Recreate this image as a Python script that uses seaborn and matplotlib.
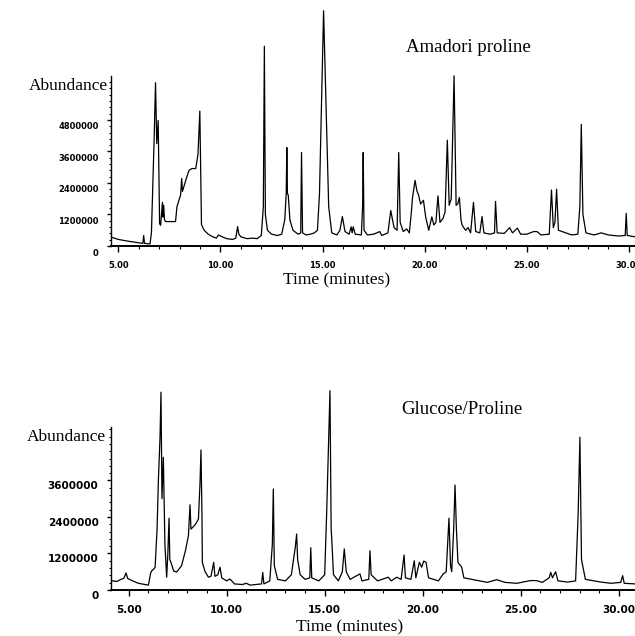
import matplotlib
matplotlib.use("Agg")
import matplotlib.pyplot as plt
import matplotlib.transforms as mtransforms
from matplotlib.ticker import MultipleLocator, FixedLocator
import seaborn as sns
import pandas as pd

# ---------------- data (time in minutes, abundance in millions) ----------------
amadori_time = [4.64, 5.0, 5.5, 6.0, 6.2, 6.24, 6.28, 6.55, 6.62, 6.75, 6.82, 6.88, 6.95, 7.02,
                7.07, 7.12, 7.16, 7.19, 7.22, 7.26, 7.31, 7.8, 7.87, 7.95, 8.05, 8.1, 8.14, 8.3,
                8.46, 8.6, 8.79, 8.9, 8.99, 9.04, 9.07, 9.2, 9.4, 9.6, 9.8, 9.9, 10.0, 10.3, 10.6,
                10.75, 10.84, 10.9, 11.0, 11.3, 11.6, 11.8, 12.0, 12.1, 12.15, 12.2, 12.3, 12.5,
                12.8, 13.0, 13.15, 13.22, 13.25, 13.28, 13.32, 13.4, 13.55, 13.8, 13.93, 13.97,
                14.02, 14.2, 14.4, 14.6, 14.75, 14.85, 14.95, 15.05, 15.15, 15.3, 15.45, 15.7,
                15.85, 15.97, 16.1, 16.3, 16.4, 16.45, 16.5, 16.6, 16.9, 16.96, 16.99, 17.03,
                17.2, 17.5, 17.8, 17.9, 18.2, 18.34, 18.5, 18.65, 18.73, 18.8, 18.95, 19.12,
                19.25, 19.35, 19.4, 19.53, 19.62, 19.7, 19.8, 19.94, 20.05, 20.2, 20.35, 20.45,
                20.55, 20.65, 20.75, 20.9, 21.0, 21.11, 21.2, 21.3, 21.44, 21.54, 21.62, 21.7,
                21.78, 21.83, 22.0, 22.13, 22.25, 22.39, 22.5, 22.7, 22.81, 22.9, 23.2, 23.42,
                23.47, 23.55, 23.9, 24.16, 24.3, 24.54, 24.7, 25.0, 25.34, 25.5, 25.7, 26.1,
                26.21, 26.3, 26.38, 26.46, 26.55, 26.91, 27.2, 27.5, 27.6, 27.67, 27.75, 27.9,
                28.3, 28.64, 29.0, 29.5, 29.82, 29.87, 29.92, 30.3]
amadori_abund = [0.34, 0.25, 0.18, 0.12, 0.10, 0.40, 0.10, 0.08, 0.5, 4.0, 6.22, 3.9, 4.78, 0.85,
                 0.79, 1.3, 1.66, 1.1, 1.55, 1.0, 0.93, 0.93, 1.5, 1.7, 1.95, 2.57, 2.08, 2.5,
                 2.88, 2.95, 2.95, 3.5, 5.14, 2.5, 0.82, 0.6, 0.45, 0.36, 0.3, 0.42, 0.38, 0.28, 0.25,
                 0.3, 0.74, 0.45, 0.35, 0.28, 0.30, 0.28, 0.4, 1.5, 7.61, 1.2, 0.6, 0.45,
                 0.4, 0.45, 1.0, 2.0, 3.75, 2.0, 1.94, 1.0, 0.6, 0.45, 0.5, 3.56,
                 0.5, 0.42, 0.45, 0.5, 0.6, 2.0, 5.5, 8.96, 6.0, 1.5, 0.5, 0.42,
                 0.6, 1.12, 0.55, 0.45, 0.73, 0.5, 0.73, 0.45, 0.42, 1.5, 3.56, 0.6,
                 0.42, 0.45, 0.55, 0.4, 0.5, 1.35, 0.7, 0.6, 3.56, 0.9, 0.55, 0.65,
                 0.5, 1.3, 1.81, 2.5, 2.1, 1.94, 1.6, 1.74, 1.1, 0.6, 1.11, 0.8,
                 0.9, 1.91, 0.9, 1.05, 1.3, 4.03, 1.55, 1.8, 6.48, 1.55, 1.6, 1.85,
                 1.0, 0.8, 0.6, 0.7, 0.5, 1.66, 0.55, 0.5, 1.12, 0.5, 0.45, 0.5,
                 1.7, 0.5, 0.48, 0.7, 0.5, 0.68, 0.45, 0.45, 0.55, 0.55, 0.42, 0.45,
                 2.13, 0.7, 0.9, 2.16, 0.6, 0.5, 0.42, 0.45, 1.5, 4.63, 1.2, 0.5,
                 0.42, 0.5, 0.42, 0.38, 0.4, 1.24, 0.4, 0.35]

glucose_time = [4.1, 4.4, 4.6, 4.75, 4.87, 4.95, 5.2, 5.5, 6.01, 6.12, 6.18, 6.3, 6.35, 6.45, 6.52,
                6.6, 6.65, 6.7, 6.77, 6.85, 6.94, 7.0, 7.06, 7.1, 7.15, 7.3, 7.45, 7.7, 7.9, 8.05,
                8.13, 8.18, 8.4, 8.56, 8.64, 8.69, 8.74, 8.76, 8.9, 9.07, 9.2, 9.34, 9.4, 9.55,
                9.66, 9.75, 10.0, 10.17, 10.4, 10.8, 11.0, 11.2, 11.5, 11.78, 11.84, 11.9, 12.2,
                12.33, 12.38, 12.43, 12.6, 13.0, 13.3, 13.5, 13.57, 13.62, 13.75, 14.0, 14.24,
                14.29, 14.34, 14.7, 15.0, 15.1, 15.27, 15.33, 15.36, 15.45, 15.7, 15.9, 16.0,
                16.1, 16.3, 16.8, 16.9, 17.25, 17.31, 17.37, 17.7, 18.24, 18.4, 18.67, 18.9,
                19.05, 19.12, 19.4, 19.57, 19.65, 19.83, 19.95, 20.05, 20.17, 20.3, 20.8, 21.05,
                21.2, 21.34, 21.42, 21.48, 21.58, 21.65, 21.72, 21.8, 21.99, 22.1, 22.5, 22.9,
                23.3, 23.77, 24.2, 24.8, 25.5, 25.8, 26.1, 26.45, 26.53, 26.62, 26.78, 26.9,
                27.4, 27.8, 27.93, 28.02, 28.1, 28.3, 29.1, 29.6, 30.1, 30.2, 30.28, 30.83]
glucose_abund = [0.31, 0.28, 0.35, 0.38, 0.56, 0.38, 0.3, 0.22, 0.16, 0.55, 0.63, 0.7, 0.75, 2.0, 3.65,
                 5.0, 6.5, 3.0, 4.36, 1.5, 0.42, 1.2, 2.36, 1.0, 0.92, 0.62, 0.59, 0.8, 1.3, 1.79,
                 2.8, 2.0, 2.15, 2.33, 3.5, 4.6, 2.5, 0.91, 0.6, 0.42, 0.45, 0.91, 0.45, 0.5,
                 0.75, 0.4, 0.3, 0.36, 0.2, 0.18, 0.22, 0.16, 0.18, 0.2, 0.58, 0.2, 0.3,
                 1.5, 3.32, 0.8, 0.35, 0.3, 0.5, 1.4, 1.84, 1.0, 0.5, 0.35, 0.4,
                 1.39, 0.4, 0.3, 0.5, 2.5, 6.55, 2.0, 1.68, 0.5, 0.3, 0.6, 1.35,
                 0.6, 0.35, 0.53, 0.3, 0.35, 1.29, 0.5, 0.3, 0.42, 0.3, 0.42, 0.35,
                 1.15, 0.4, 0.35, 0.96, 0.4, 0.91, 0.75, 0.95, 0.91, 0.4, 0.3, 0.53,
                 0.6, 2.36, 0.8, 0.6, 2.0, 3.45, 2.0, 0.9, 0.75, 0.4, 0.35, 0.3,
                 0.25, 0.34, 0.25, 0.22, 0.31, 0.31, 0.25, 0.4, 0.58, 0.4, 0.6, 0.3,
                 0.26, 0.3, 2.5, 5.02, 1.0, 0.35, 0.26, 0.22, 0.25, 0.47, 0.22, 0.2]

x_tick_values = [5, 10, 15, 20, 25, 30]
x_tick_labels = ["5.00", "10.00", "15.00", "20.00", "25.00", "30.00"]
top_y_ticks = [0, 1200000, 2400000, 3600000, 4800000]
bottom_y_ticks = [0, 1200000, 2400000, 3600000]
titles = ["Amadori proline", "Glucose/Proline"]

# ---------------- figure ----------------
sns.set_theme(style="ticks")
plt.rcParams["font.family"] = ["DejaVu Sans"]
W, H = 635, 636
fig = plt.figure(figsize=(W / 100, H / 100), dpi=100)
fig.patch.set_facecolor("white")

def px_rect(x0, y_top, x1, y_bot):
    return [x0 / W, 1 - y_bot / H, (x1 - x0) / W, (y_bot - y_top) / H]

panels = [
    dict(t=amadori_time, a=amadori_abund, rect=px_rect(111, 0, 635, 246),
         xlim=(4.64, 30.3), ylim=(0, 9.37e6), spine_top=6.47e6, yticks=top_y_ticks,
         fs=6.0, title=titles[0], title_xy=(468, 47), abund_xy=(108, 86),
         time_xy=(337, 280), lab_off=6, xpad=6.5),
    dict(t=glucose_time, a=glucose_abund, rect=px_rect(111, 380, 635, 590),
         xlim=(4.1, 30.83), ylim=(0, 6.90e6), spine_top=5.36e6, yticks=bottom_y_ticks,
         fs=7.5, title=titles[1], title_xy=(462, 410), abund_xy=(106, 437),
         time_xy=(350, 627), lab_off=5, xpad=6.5),
]

serif = ["Liberation Serif", "DejaVu Serif"]
for p in panels:
    ax = fig.add_axes(p["rect"])
    ax.set_facecolor("white")
    df = pd.DataFrame({"time": p["t"], "abundance": [v * 1e6 for v in p["a"]]})
    sns.lineplot(data=df, x="time", y="abundance", ax=ax, color="black",
                 linewidth=0.9, estimator=None, sort=False)
    ax.set_xlim(*p["xlim"])
    ax.set_ylim(*p["ylim"])
    ax.set_xlabel("")
    ax.set_ylabel("")
    for s in ["top", "right"]:
        ax.spines[s].set_visible(False)
    ax.spines["left"].set_bounds(0, p["spine_top"])
    ax.spines["left"].set_linewidth(1.0)
    ax.spines["bottom"].set_linewidth(1.4)
    ax.spines["left"].set_color("black")
    ax.spines["bottom"].set_color("black")

    ax.set_xticks(x_tick_values)
    ax.set_xticklabels(x_tick_labels, fontsize=p["fs"], fontweight="bold")
    ax.xaxis.set_minor_locator(MultipleLocator(1))
    ax.set_yticks(p["yticks"])
    ax.set_yticklabels([str(v) for v in p["yticks"]], fontsize=p["fs"], fontweight="bold")
    ax.yaxis.set_minor_locator(FixedLocator(
        [i * 240000 for i in range(0, int(p["spine_top"] // 240000) + 1)]))
    ax.tick_params(axis="x", which="major", direction="out", length=4, width=1,
                   pad=p["xpad"], colors="black")
    ax.tick_params(axis="x", which="minor", direction="out", length=2.5, width=0.8,
                   colors="black")
    ax.tick_params(axis="y", which="major", direction="out", length=3, width=1,
                   pad=6, colors="black")
    ax.tick_params(axis="y", which="minor", direction="out", length=1.8, width=0.8,
                   colors="black")
    off = mtransforms.ScaledTranslation(0, -p["lab_off"] / 100, fig.dpi_scale_trans)
    for lab in ax.get_yticklabels():
        lab.set_transform(lab.get_transform() + off)

    fig.text(p["title_xy"][0] / W, 1 - p["title_xy"][1] / H, p["title"],
             family=serif, fontsize=13.5, ha="center", va="center", color="black")
    fig.text(p["abund_xy"][0] / W, 1 - p["abund_xy"][1] / H, "Abundance",
             family=serif, fontsize=12.5, ha="right", va="center", color="black")
    fig.text(p["time_xy"][0] / W, 1 - p["time_xy"][1] / H, "Time (minutes)",
             family=serif, fontsize=12.5, ha="center", va="center", color="black")

fig.savefig("out.png", dpi=100, facecolor="white")
